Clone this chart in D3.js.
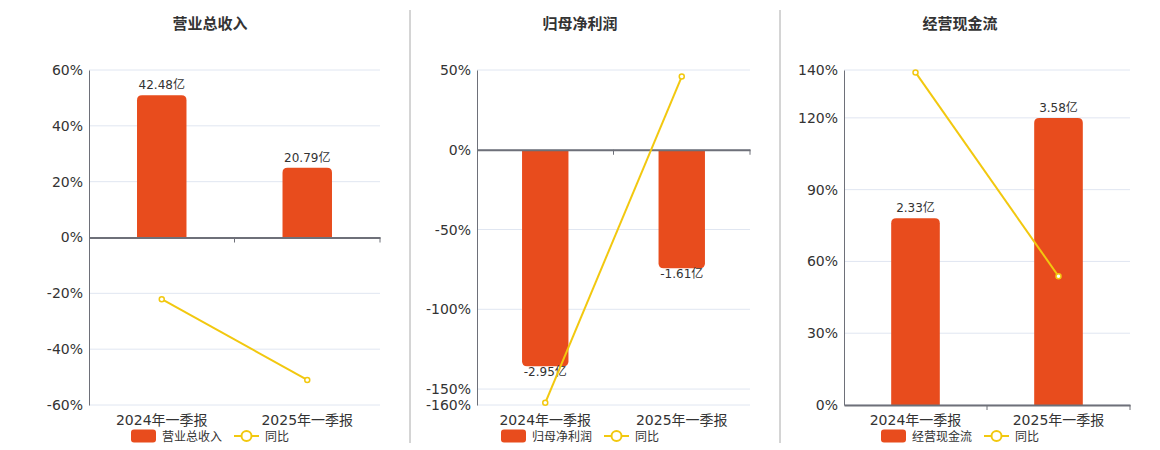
<!DOCTYPE html>
<html>
<head>
<meta charset="utf-8">
<script src="https://cdn.jsdelivr.net/npm/d3@7"></script>
<style>
  body { margin: 0; background: #fff; }
  svg text { font-family: "DejaVu Sans", "Noto Sans CJK SC", sans-serif; }
</style>
</head>
<body>
<script>
// data
var categories = ['2024年一季报', '2025年一季报']
var titles = ['营业总收入', '归母净利润', '经营现金流']
var barValues = [[42.48, 20.79], [-2.95, -1.61], [2.33, 3.58]]
var barLabels = [['42.48亿', '20.79亿'], ['-2.95亿', '-1.61亿'], ['2.33亿', '3.58亿']]
var yoyValues = [[-22.1, -51.0], [-158.6, 45.9], [139.0, 53.8]]
var pctTicks = [[-60, -40, -20, 0, 20, 40, 60], [-160, -150, -100, -50, 0, 50], [0, 30, 60, 90, 120, 140]]
var pctDomains = [[-60, 60], [-160, 50], [0, 140]]
var barDomains = [[-50, 50], [-3.48, 1.1], [0, 4.18]]

var barColor = '#E84C1D'
var lineColor = '#F2C80F'

var panels = [
	{x0: 89, x1: 380, cx: 210},
	{x0: 477, x1: 750, cx: 580},
	{x0: 844, x1: 1130, cx: 960}
]
var plotTop = 70, plotBottom = 405

var svg = d3.select('body').append('svg')
	.attr('width', 1160)
	.attr('height', 450)

// separators
;[410, 780].forEach(function(x) {
	svg.append('line')
		.attr('x1', x).attr('x2', x)
		.attr('y1', 10).attr('y2', 443)
		.attr('stroke', '#aaa')
		.attr('stroke-width', 1)
})

function roundedBar(x, w, y0, y1, r) {
	// rounded on the far end from zero
	var h = Math.abs(y1 - y0)
	r = Math.min(r, h / 2, w / 2)
	if (y1 < y0) {
		return 'M' + x + ',' + y0 + 'V' + (y1 + r) + 'Q' + x + ',' + y1 + ' ' + (x + r) + ',' + y1 +
			'H' + (x + w - r) + 'Q' + (x + w) + ',' + y1 + ' ' + (x + w) + ',' + (y1 + r) + 'V' + y0 + 'Z'
	}
	return 'M' + x + ',' + y0 + 'V' + (y1 - r) + 'Q' + x + ',' + y1 + ' ' + (x + r) + ',' + y1 +
		'H' + (x + w - r) + 'Q' + (x + w) + ',' + y1 + ' ' + (x + w) + ',' + (y1 - r) + 'V' + y0 + 'Z'
}

panels.forEach(function(p, i) {
	var g = svg.append('g')

	var x = d3.scaleBand()
		.domain(categories)
		.range([p.x0, p.x1])

	var y = d3.scaleLinear()
		.domain(pctDomains[i])
		.range([plotBottom, plotTop])

	var yb = d3.scaleLinear()
		.domain(barDomains[i])
		.range([plotBottom, plotTop])

	// title
	g.append('text')
		.attr('x', p.cx)
		.attr('y', 29)
		.attr('text-anchor', 'middle')
		.attr('font-size', 15)
		.attr('font-weight', 'bold')
		.attr('fill', '#333')
		.text(titles[i])

	// grid lines
	g.selectAll('.grid')
		.data(pctTicks[i])
		.enter()
		.append('line')
			.attr('x1', p.x0).attr('x2', p.x1)
			.attr('y1', d => y(d)).attr('y2', d => y(d))
			.attr('stroke', '#E0E6F1')
			.attr('stroke-width', 1)

	// y axis
	var yAxis = g.append('g')
		.attr('transform', 'translate(' + p.x0 + ',0)')
		.call(d3.axisLeft(y).tickValues(pctTicks[i]).tickSize(0).tickPadding(6).tickFormat(d => d + '%'))
	yAxis.select('.domain').attr('stroke', '#6E7079')
	yAxis.selectAll('text').attr('font-size', 14).attr('fill', '#333')
		.attr('font-family', '"DejaVu Sans", sans-serif')

	// bars
	var bw = x.bandwidth() * 0.34
	g.selectAll('.bar')
		.data(barValues[i])
		.enter()
		.append('path')
			.attr('d', (d, j) => roundedBar(x(categories[j]) + (x.bandwidth() - bw) / 2, bw, yb(0), yb(d), 5))
			.attr('fill', barColor)

	// bar labels
	g.selectAll('.blabel')
		.data(barValues[i])
		.enter()
		.append('text')
			.attr('x', (d, j) => x(categories[j]) + x.bandwidth() / 2)
			.attr('y', d => d >= 0 ? yb(d) - 6 : yb(d) + 10)
			.attr('text-anchor', 'middle')
			.attr('font-size', 12)
			.attr('fill', '#333')
			.text((d, j) => barLabels[i][j])

	// x axis at zero
	var xAxis = g.append('g')
		.attr('transform', 'translate(0,' + y(0) + ')')
		.call(d3.axisBottom(x).tickSize(0).tickFormat(''))
	xAxis.select('.domain').attr('stroke', '#6E7079').attr('stroke-width', 2)
	xAxis.selectAll('.bt')
		.data([p.x0 + x.bandwidth(), p.x1])
		.enter()
		.append('line')
			.attr('x1', d => d).attr('x2', d => d)
			.attr('y1', 0).attr('y2', 5)
			.attr('stroke', '#6E7079')

	// category labels
	g.selectAll('.clabel')
		.data(categories)
		.enter()
		.append('text')
			.attr('x', d => x(d) + x.bandwidth() / 2)
			.attr('y', 425)
			.attr('text-anchor', 'middle')
			.attr('font-size', 14)
			.attr('fill', '#333')
			.text(d => d)

	// yoy line
	var line = d3.line()
		.x((d, j) => x(categories[j]) + x.bandwidth() / 2)
		.y(d => y(d))
	g.append('path')
		.datum(yoyValues[i])
		.attr('d', line)
		.attr('fill', 'none')
		.attr('stroke', lineColor)
		.attr('stroke-width', 2)
	g.selectAll('.pt')
		.data(yoyValues[i])
		.enter()
		.append('circle')
			.attr('cx', (d, j) => x(categories[j]) + x.bandwidth() / 2)
			.attr('cy', d => y(d))
			.attr('r', 2.5)
			.attr('fill', '#fff')
			.attr('stroke', lineColor)
			.attr('stroke-width', 1.5)

	// legend
	var nameW = titles[i].length * 12
	var total = 25 + 6 + nameW + 12 + 25 + 6 + 24
	var lx = p.cx - total / 2
	var lg = g.append('g').attr('transform', 'translate(' + lx + ',436)')
	lg.append('rect')
		.attr('x', 0).attr('y', -6.5)
		.attr('width', 25).attr('height', 13)
		.attr('rx', 3)
		.attr('fill', barColor)
	lg.append('text')
		.attr('x', 31).attr('y', 4.5)
		.attr('font-size', 12)
		.attr('fill', '#333')
		.text(titles[i])
	var l2 = 31 + nameW + 12
	lg.append('line')
		.attr('x1', l2).attr('x2', l2 + 25)
		.attr('y1', 0).attr('y2', 0)
		.attr('stroke', lineColor)
		.attr('stroke-width', 2)
	lg.append('circle')
		.attr('cx', l2 + 12.5).attr('cy', 0).attr('r', 5)
		.attr('fill', '#fff')
		.attr('stroke', lineColor)
		.attr('stroke-width', 2)
	lg.append('text')
		.attr('x', l2 + 31).attr('y', 4.5)
		.attr('font-size', 12)
		.attr('fill', '#333')
		.text('同比')
})
</script>
</body>
</html>
